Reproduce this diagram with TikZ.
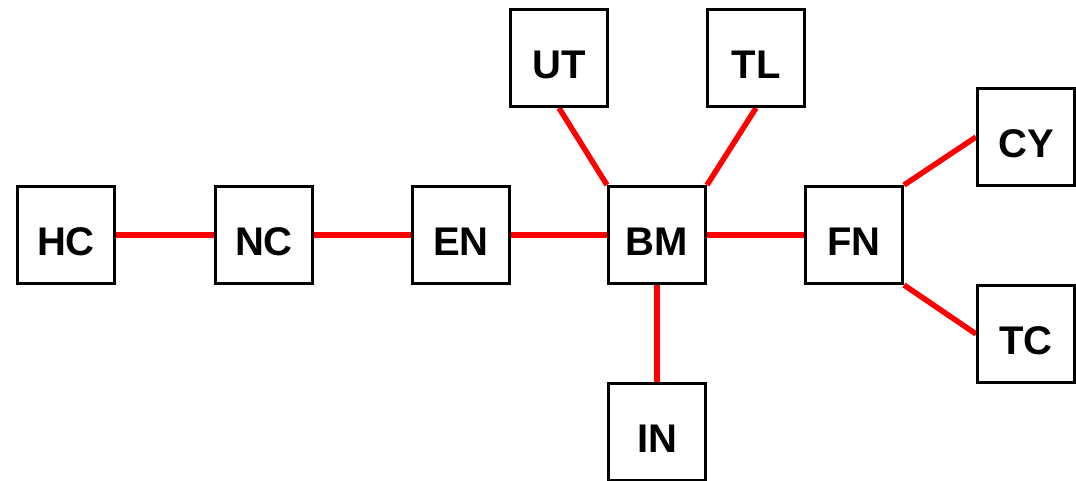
\documentclass[tikz,border=0pt]{standalone}
\usepackage{fontspec}
\setmainfont{Liberation Sans}
\usetikzlibrary{backgrounds}
\begin{document}
\begin{tikzpicture}[x=1pt,y=-1pt,
  box/.style={draw=black,line width=3pt,fill=white,minimum size=97pt,inner sep=0pt,
    text height=41pt,text depth=0pt,font=\fontsize{40}{40}\selectfont\bfseries},
  link/.style={draw=red,line width=5.5pt}]
\useasboundingbox (0,0) rectangle (1076,481);
\node[box] (HC) at (66,235) {HC};
\node[box] (NC) at (264,235) {NC};
\node[box] (EN) at (461,235) {EN};
\node[box] (BM) at (657,235) {BM};
\node[box] (FN) at (854,235) {FN};
\node[box] (UT) at (559,58) {UT};
\node[box] (TL) at (756,58) {TL};
\node[box] (CY) at (1026,137) {CY};
\node[box] (TC) at (1026,334) {TC};
\node[box] (IN) at (657,432) {IN};
\begin{scope}[on background layer]
\draw[link] (HC.east) -- (NC.west);
\draw[link] (NC.east) -- (EN.west);
\draw[link] (EN.east) -- (BM.west);
\draw[link] (BM.east) -- (FN.west);
\draw[link] (BM.north west) -- (UT.south);
\draw[link] (BM.north east) -- (TL.south);
\draw[link] (BM.south) -- (IN.north);
\draw[link] (FN.north east) -- (CY.west);
\draw[link] (FN.south east) -- (TC.west);
\end{scope}
\end{tikzpicture}
\end{document}
